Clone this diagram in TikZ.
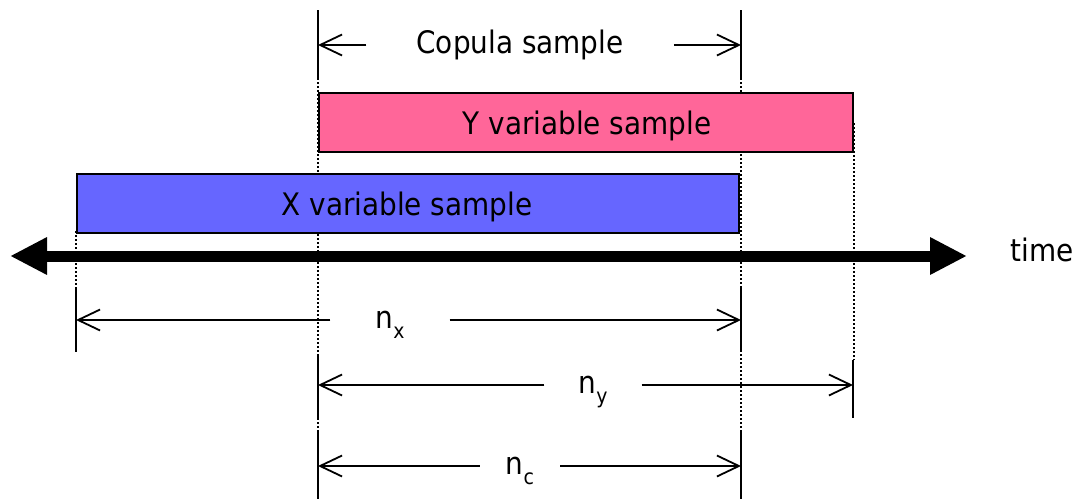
\documentclass[tikz,border=0pt]{standalone}
\usepackage{fontspec}
\setmainfont[FakeStretch=0.9]{DejaVu Sans}
\usetikzlibrary{arrows.meta}
\definecolor{ypink}{HTML}{FF6699}
\definecolor{xblue}{HTML}{6666FF}
\tikzset{
  lbl/.style={font=\fontsize{31}{31}\selectfont, inner ysep=0pt, text depth=0pt},
  samplebox/.style={draw=black, line width=2.4pt, minimum height=59pt, inner sep=0pt},
  guide/.style={line width=2pt, dash pattern=on 2pt off 2pt},
  tick/.style={line width=2pt},
  dim/.style={line width=1.8pt, -{Straight Barb[length=22pt,width=21pt,line width=1.8pt]}},
  timeline/.style={line width=11pt, {Triangle[length=37pt,width=35pt]}-{Triangle[length=37pt,width=35pt]}}
}
\newcommand{\sub}[1]{\raisebox{-0.32em}{\fontsize{21}{21}\selectfont #1}}
\begin{document}
\begin{tikzpicture}[x=1pt,y=-1pt]
\useasboundingbox (0,0) rectangle (1076,499);
% guide lines
\draw[guide] (76,231) -- (76,290);
\draw[guide] (318,10) -- (318,499);
\draw[guide] (741,10) -- (741,499);
\draw[guide] (854,123) -- (854,360);
% boxes
\node[samplebox, fill=ypink, minimum width=534pt, anchor=north west] (ybox) at (318,92) {};
\node[lbl] (ytext) at (587,123) {Y variable sample};
\node[samplebox, fill=xblue, minimum width=662pt, anchor=north west] (xbox) at (76,173) {};
\node[lbl] (xtext) at (407,204) {X variable sample};
% time axis
\coordinate (tl) at (10,256);
\coordinate (tr) at (967,256);
\draw[timeline] (tl) -- (tr);
\node[lbl, anchor=west] (time) at (1007,250) {time};
% copula dimension
\coordinate (c1a) at (318,10); \coordinate (c1b) at (318,78);
\coordinate (c2a) at (741,10); \coordinate (c2b) at (741,78);
\draw[tick] (c1a) -- (c1b); \draw[tick] (c2a) -- (c2b);
\coordinate (c1) at (318,45); \coordinate (c2) at (741,45);
\node[lbl, inner xsep=50pt] (cs) at (520,42) {Copula sample};
\draw[dim] (cs.west |- c1) -- (c1);
\draw[dim] (cs.east |- c2) -- (c2);
% n_x dimension
\coordinate (x1a) at (76,288); \coordinate (x1b) at (76,352);
\coordinate (x2a) at (741,287); \coordinate (x2b) at (741,351);
\draw[tick] (x1a) -- (x1b); \draw[tick] (x2a) -- (x2b);
\coordinate (x1) at (76,320); \coordinate (x2) at (741,320);
\node[lbl, inner xsep=45pt] (nx) at (390,320) {n\sub{x}};
\draw[dim] (nx.west |- x1) -- (x1);
\draw[dim] (nx.east |- x2) -- (x2);
% n_y dimension
\coordinate (y1a) at (318,356); \coordinate (y1b) at (318,418);
\coordinate (y2a) at (853,360); \coordinate (y2b) at (853,418);
\draw[tick] (y1a) -- (y1b); \draw[tick] (y2a) -- (y2b);
\coordinate (y1) at (318,385); \coordinate (y2) at (853,385);
\node[lbl, inner xsep=34pt] (ny) at (593,385) {n\sub{y}};
\draw[dim] (ny.west |- y1) -- (y1);
\draw[dim] (ny.east |- y2) -- (y2);
% n_c dimension
\coordinate (k1a) at (318,432); \coordinate (k1b) at (318,499);
\coordinate (k2a) at (741,432); \coordinate (k2b) at (741,499);
\draw[tick] (k1a) -- (k1b); \draw[tick] (k2a) -- (k2b);
\coordinate (k1) at (318,466); \coordinate (k2) at (741,466);
\node[lbl, inner xsep=26pt] (nc) at (520,466) {n\sub{c}};
\draw[dim] (nc.west |- k1) -- (k1);
\draw[dim] (nc.east |- k2) -- (k2);
\end{tikzpicture}
\end{document}
